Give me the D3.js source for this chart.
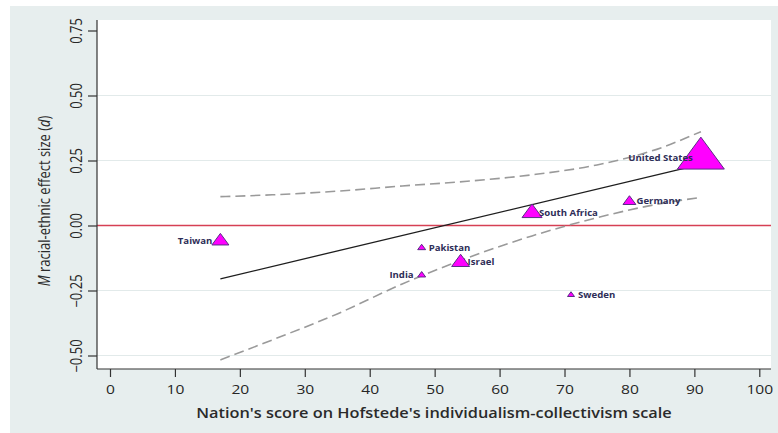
<!DOCTYPE html>
<html>
<head>
<meta charset="utf-8">
<script src="https://cdn.jsdelivr.net/npm/d3@7"></script>
<style>
  html, body { margin: 0; padding: 0; background: #ffffff; }
  svg { display: block; }
  text { font-family: "Open Sans", sans-serif; }
</style>
</head>
<body>
<svg id="chart" width="778" height="433"></svg>
<script>
// Nations and their scores
const nations = ["Taiwan", "Pakistan", "India", "Israel", "South Africa", "Germany", "United States", "Sweden"];
const individualism = [17, 48, 48, 54, 65, 80, 91, 71];
const effectSize = [-0.060, -0.086, -0.191, -0.142, 0.048, 0.092, 0.258, -0.267];
const studyWeight = [5.9, 1.3, 1.3, 6.6, 8.2, 3.4, 45, 1.0];
const labelSide = ["left", "right", "left", "right", "right", "right", "left", "right"];

// Meta-regression line and its confidence band
const fitX = [17, 91];
const fitY = [-0.205, 0.235];
const ciX = [17, 25, 35, 45, 55, 65, 75, 85, 91];
const ciUpper = [0.111, 0.118, 0.132, 0.152, 0.170, 0.195, 0.233, 0.300, 0.361];
const ciLower = [-0.517, -0.440, -0.340, -0.225, -0.125, -0.040, 0.030, 0.085, 0.108];

// Axis ticks
const xTicks = [0, 10, 20, 30, 40, 50, 60, 70, 80, 90, 100];
const yTicks = [-0.5, -0.25, 0, 0.25, 0.5, 0.75];
const yGrid = [-0.5, -0.25, 0.25, 0.5];

const svg = d3.select("#chart");
const STRETCH = 1.2;

// Outer panel
svg.append("rect").attr("x", 10).attr("y", 6).attr("width", 768).attr("height", 427)
  .attr("fill", "#e7eeee");

const plot = { left: 97, right: 771, top: 20, bottom: 369 };
svg.append("rect").attr("x", plot.left).attr("y", plot.top)
  .attr("width", plot.right - plot.left).attr("height", plot.bottom - plot.top)
  .attr("fill", "#ffffff");

const x = d3.scaleLinear().domain([0, 100]).range([110, 759.3]);
const y = d3.scaleLinear().domain([0, 0.75]).range([225.5, 30.5]);

// Grid lines
svg.append("g").selectAll("line").data(yGrid).join("line")
  .attr("x1", plot.left).attr("x2", plot.right)
  .attr("y1", d => y(d)).attr("y2", d => y(d))
  .attr("stroke", "#e2eaea").attr("stroke-width", 1);

// Reference line at zero
svg.append("line").attr("x1", plot.left).attr("x2", plot.right)
  .attr("y1", y(0)).attr("y2", y(0))
  .style("stroke", "rgb(214,64,84)").style("stroke-width", "1.3px");

// Confidence band
const ciLine = d3.line().curve(d3.curveMonotoneX).x(d => x(d[0])).y(d => y(d[1]));
[ciUpper, ciLower].forEach(band => {
  svg.append("path").datum(ciX.map((v, i) => [v, band[i]]))
    .attr("d", ciLine).attr("fill", "none")
    .attr("stroke", "#9a9a9a").attr("stroke-width", 1.6)
    .attr("stroke-dasharray", "10,5");
});

// Fitted line
svg.append("path").datum(fitX.map((v, i) => [v, fitY[i]]))
  .attr("d", d3.line().x(d => x(d[0])).y(d => y(d[1])))
  .attr("fill", "none").attr("stroke", "#1e1e1e").attr("stroke-width", 1.3);

// Markers: triangles sized by weight, centred on their centroid
const size = d3.scaleSqrt().domain([0, 1]).range([0, 7]);
const pts = nations.map((n, i) => ({
  name: n, xv: individualism[i], yv: effectSize[i], w: studyWeight[i], side: labelSide[i]
}));
svg.append("g").selectAll("path").data(pts).join("path")
  .attr("transform", d => `translate(${x(d.xv)},${y(d.yv)})`)
  .attr("d", d => {
    const w = size(d.w), h = w * 0.68;
    return `M0,${-2 * h / 3}L${w / 2},${h / 3}L${-w / 2},${h / 3}Z`;
  })
  .attr("fill", "#ff00ff").attr("stroke", "#5b2c86").attr("stroke-width", 1);

svg.append("g").selectAll("text").data(pts).join("text")
  .attr("transform", d => `translate(${x(d.xv) + (d.side === "left" ? -8 : 7)},${y(d.yv)}) scale(${STRETCH},1)`)
  .attr("dy", "0.35em")
  .attr("text-anchor", d => d.side === "left" ? "end" : "start")
  .attr("font-size", 8).attr("font-weight", 700).attr("fill", "#2e2e58")
  .text(d => d.name);

// X axis
const xAxis = svg.append("g").attr("transform", `translate(0,${plot.bottom})`)
  .call(d3.axisBottom(x).tickValues(xTicks).tickSize(8).tickSizeOuter(0).tickFormat(d3.format("d")));
xAxis.select(".domain").remove();
xAxis.selectAll(".tick line").attr("stroke", "#333").attr("stroke-width", 1.2);
xAxis.selectAll(".tick text")
  .attr("y", 0).attr("dy", 0)
  .attr("transform", `translate(0,24.5) scale(${STRETCH},1)`)
  .attr("font-size", 13).attr("fill", "#262626");
svg.append("line").attr("x1", plot.left).attr("x2", plot.right)
  .attr("y1", plot.bottom).attr("y2", plot.bottom).attr("stroke", "#333").attr("stroke-width", 1.2);

// Y axis
const yAxis = svg.append("g").attr("transform", `translate(${plot.left},0)`)
  .call(d3.axisLeft(y).tickValues(yTicks).tickSize(9).tickSizeOuter(0).tickFormat(d3.format(".2f")));
yAxis.select(".domain").remove();
yAxis.selectAll(".tick line").attr("stroke", "#333").attr("stroke-width", 1.2);
yAxis.selectAll(".tick text")
  .attr("x", 0).attr("dy", 0).attr("text-anchor", "middle")
  .attr("transform", `translate(-15,0) scale(${STRETCH},1) rotate(-90)`)
  .attr("font-size", 13).attr("fill", "#262626");
svg.append("line").attr("x1", plot.left).attr("x2", plot.left)
  .attr("y1", plot.top).attr("y2", plot.bottom).attr("stroke", "#333").attr("stroke-width", 1.2);

// Axis titles
svg.append("text")
  .attr("transform", `translate(${(plot.left + plot.right) / 2},418) scale(${STRETCH},1)`)
  .attr("text-anchor", "middle").attr("font-size", 13.6).attr("font-weight", 600).attr("fill", "#2a2a2a")
  .text("Nation's score on Hofstede's individualism-collectivism scale");

const yTitle = svg.append("text")
  .attr("transform", `translate(50,201) scale(${STRETCH},1) rotate(-90)`)
  .attr("text-anchor", "middle").attr("font-size", 13).attr("fill", "#2a2a2a");
yTitle.append("tspan").attr("font-style", "italic").text("M");
yTitle.append("tspan").text(" racial-ethnic effect size (");
yTitle.append("tspan").attr("font-style", "italic").text("d");
yTitle.append("tspan").text(")");
</script>
</body>
</html>
